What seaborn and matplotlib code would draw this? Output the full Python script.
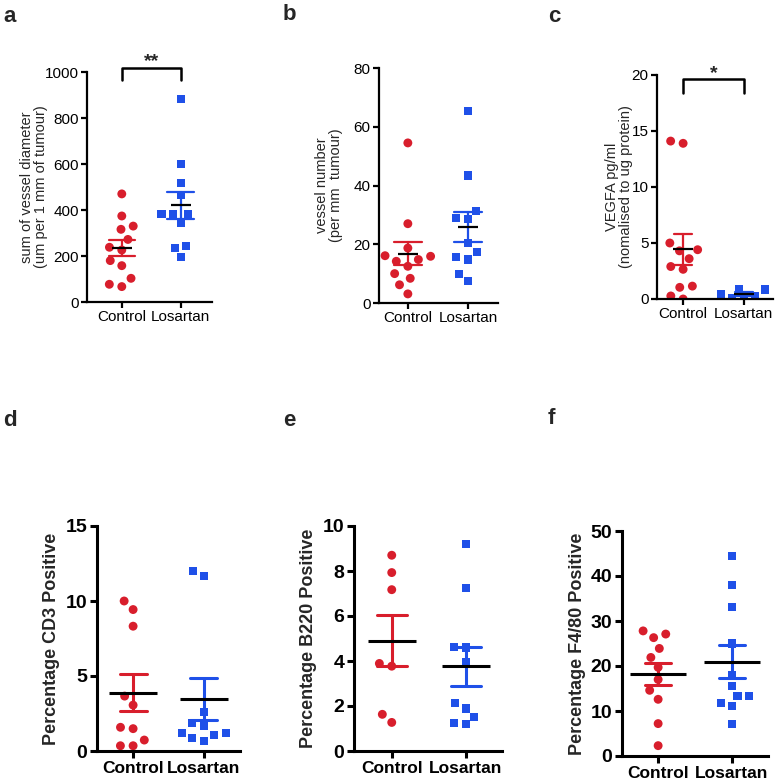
import pandas as pd
import seaborn as sns
import matplotlib
matplotlib.use('Agg')
import matplotlib.pyplot as plt

groups = ["Control", "Losartan"]

# values
diam_ctrl = [470, 374, 330, 316, 272, 238, 226, 180, 158, 103, 77, 67]
diam_los = [882, 600, 516, 465, 383, 383, 383, 345, 243, 236, 194]
vnum_ctrl = [54.5, 27, 18.7, 16.1, 15.9, 14.8, 14.2, 12.5, 10, 8.4, 6.2, 3.1]
vnum_los = [65.3, 43.4, 31.4, 29, 28.6, 20.4, 17.4, 15.7, 14.8, 10, 7.6]
vegfa_ctrl = [14.1, 13.9, 5.0, 4.4, 4.3, 3.6, 2.9, 2.65, 1.04, 1.15, 0.0, 0.27]
vegfa_los = [0.9, 0.85, 0.45, 0.3, 0.0, 0.05]
cd3_ctrl = [10.0, 9.43, 8.32, 3.66, 3.06, 1.58, 1.49, 0.73, 0.35, 0.35]
cd3_los = [12.0, 11.65, 2.57, 1.84, 1.7, 1.18, 1.06, 1.18, 0.69, 0.84]
b220_ctrl = [8.70, 7.93, 7.17, 3.89, 3.77, 1.63, 1.27]
b220_los = [9.22, 7.26, 4.63, 4.60, 3.96, 2.12, 1.89, 1.52, 1.18, 1.23]
f480_ctrl = [27.1, 27.8, 26.3, 21.9, 23.9, 19.7, 17.0, 14.6, 12.6, 7.2, 2.3]
f480_los = [44.4, 37.9, 33.1, 25.0, 18.0, 15.5, 13.3, 13.3, 11.8, 11.1, 7.2]

RED = "#d81e2c"
BLUE = "#1f50e8"

sns.set_theme(style="ticks")
plt.rcParams['font.family'] = ['Liberation Sans', 'DejaVu Sans']

fig = plt.figure(figsize=(7.78, 7.82), dpi=100)


def px_axes(l, r, t, b):
    return fig.add_axes([l / 778, 1 - b / 782, (r - l) / 778, (b - t) / 782])


def draw(ax, ctrl, los, ylim, yticks, ylabel, xlim, bold, mean_w, cap, label_x):
    df = pd.DataFrame({"group": ["Control"] * len(ctrl) + ["Losartan"] * len(los),
                       "value": ctrl + los})
    lw = 2.2 if bold else 1.6
    for g, col, mk, sz in [("Control", RED, "o", 6.4), ("Losartan", BLUE, "s", 5.8)]:
        sub = df[df.group == g]
        # transparent edge widens the swarm spacing like the original layout
        sns.swarmplot(data=sub, x="group", y="value", order=groups, color=col,
                      marker=mk, size=sz, linewidth=2.3, edgecolor="none",
                      ax=ax, zorder=2)
        sns.pointplot(data=sub, x="group", y="value", order=groups, color="black",
                      errorbar="se", capsize=cap, marker="_", markersize=mean_w,
                      markeredgewidth=lw, linestyle="none", zorder=4,
                      err_kws={"color": col, "linewidth": lw, "zorder": 3}, ax=ax)
    ax.set_xlim(*xlim)
    ax.set_ylim(*ylim)
    ax.set_yticks(yticks)
    weight = "bold" if bold else "normal"
    ax.set_xlabel("")
    ax.set_ylabel(ylabel, fontsize=13 if bold else 10.5, fontweight=weight, linespacing=1.0)
    ax.yaxis.set_label_coords(label_x, 0.5)
    ax.tick_params(axis="y", labelsize=14 if bold else 11)
    ax.tick_params(axis="x", labelsize=12.5 if bold else 11)
    ax.tick_params(axis="both", width=lw, length=5 if bold else 4, pad=2, colors="black")
    for t in ax.get_xticklabels() + ax.get_yticklabels():
        t.set_fontweight(weight)
    sns.despine(ax=ax)
    for s in ["left", "bottom"]:
        ax.spines[s].set_linewidth(lw)
        ax.spines[s].set_color("black")
    ax.set_facecolor("white")


def bracket(ax, top, leg, star_y, text):
    ax.plot([0, 0, 1, 1], [leg, top, top, leg], color="black", lw=1.8, clip_on=False)
    ax.text(0.5, star_y, text, ha="center", va="center", fontsize=14,
            fontweight="bold", clip_on=False)


ax_a = px_axes(87, 212, 72, 302)
draw(ax_a, diam_ctrl, diam_los, (0, 1000), [0, 200, 400, 600, 800, 1000],
     "sum of vessel diameter\n(um per 1 mm of tumour)", (-0.59, 1.53), False, 14.5, 0.45, -0.31)
bracket(ax_a, 1017, 965, 1045, "**")

ax_b = px_axes(379, 498, 68, 303)
draw(ax_b, vnum_ctrl, vnum_los, (0, 80), [0, 20, 40, 60, 80],
     "vessel number\n(per mm  tumour)", (-0.48, 1.5), False, 15, 0.47, -0.30)

ax_c = px_axes(657, 773, 75, 299)
draw(ax_c, vegfa_ctrl, vegfa_los, (0, 20), [0, 5, 10, 15, 20],
     "VEGFA pg/ml\n(nomalised to ug protein)", (-0.43, 1.48), False, 14, 0.3, -0.21)
bracket(ax_c, 19.64, 18.4, 20.15, "*")

ax_d = px_axes(97, 240, 526, 751)
draw(ax_d, cd3_ctrl, cd3_los, (0, 15), [0, 5, 10, 15],
     "Percentage CD3 Positive", (-0.51, 1.51), True, 34, 0.38, -0.26)

ax_e = px_axes(354, 502, 526, 751)
draw(ax_e, b220_ctrl, b220_los, (0, 10), [0, 2, 4, 6, 8, 10],
     "Percentage B220 Positive", (-0.51, 1.49), True, 35, 0.41, -0.25)

ax_f = px_axes(622, 768, 531, 756)
draw(ax_f, f480_ctrl, f480_los, (0, 50), [0, 10, 20, 30, 40, 50],
     "Percentage F4/80 Positive", (-0.49, 1.49), True, 40, 0.36, -0.25)

for lab, x, y in [("a", 3, 17), ("b", 283, 14), ("c", 548, 17),
                  ("d", 3, 421), ("e", 283, 421), ("f", 548, 419)]:
    fig.text(x / 778, 1 - y / 782, lab, fontsize=16, fontweight="bold",
             ha="left", va="center")

fig.savefig("out.png", dpi=100, facecolor="white")
